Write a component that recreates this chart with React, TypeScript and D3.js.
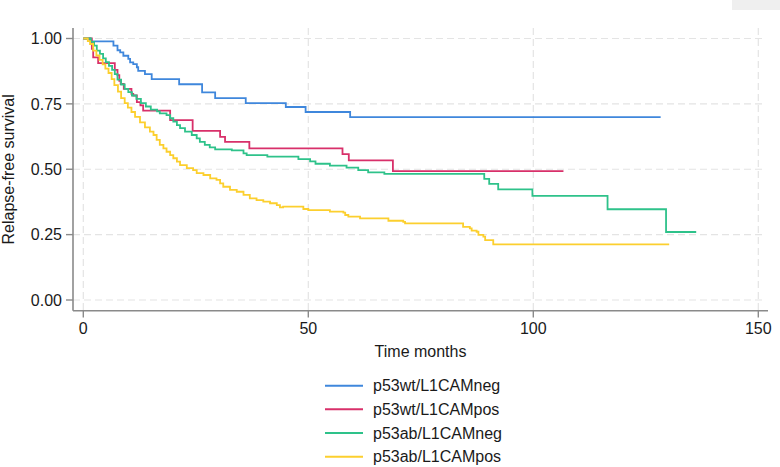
import * as d3 from 'd3';
import { useEffect } from 'react';

// step times (months) and survival after each step; last entry is the censoring end
const blueTimes = [0, 1.5, 6.7, 7.6, 8.2, 8.9, 10.0, 10.4, 11.1, 11.9, 12.2, 13.7, 15.2, 21.3, 26.4, 29.3, 36.1, 45.0, 49.4, 59.3, 128.3];
const blueSurv = [1, 0.989, 0.973, 0.955, 0.947, 0.934, 0.922, 0.909, 0.902, 0.89, 0.876, 0.864, 0.845, 0.825, 0.794, 0.772, 0.753, 0.738, 0.719, 0.699, 0.699];

const redTimes = [0, 1.9, 2.2, 3.3, 7.0, 7.6, 8.0, 8.3, 9.0, 10.7, 11.1, 11.9, 12.7, 13.3, 19.3, 24.3, 30.4, 31.5, 36.9, 57.6, 59.0, 68.8, 106.7];
const redSurv = [1, 0.96, 0.928, 0.906, 0.88, 0.86, 0.838, 0.826, 0.807, 0.788, 0.782, 0.757, 0.744, 0.724, 0.688, 0.647, 0.624, 0.605, 0.58, 0.558, 0.534, 0.493, 0.493];

const greenTimes = [0, 1.7, 2.4, 3.0, 3.7, 4.4, 5.0, 5.7, 6.4, 7.0, 7.6, 8.4, 9.2, 10.0, 10.8, 11.8, 12.8, 13.9, 15.0, 16.4, 17.0, 18.5, 19.3, 20.0, 20.8, 21.5, 22.6, 24.1, 25.2, 25.9, 27.0, 28.1, 29.3, 33.0, 35.6, 36.3, 40.9, 47.8, 50.4, 51.6, 54.8, 58.5, 61.1, 63.3, 66.9, 89.1, 90.2, 92.2, 99.8, 116.5, 129.5, 136.2];
const greenSurv = [1, 0.987, 0.973, 0.954, 0.941, 0.924, 0.91, 0.895, 0.88, 0.864, 0.843, 0.824, 0.807, 0.795, 0.782, 0.769, 0.753, 0.74, 0.728, 0.721, 0.714, 0.707, 0.695, 0.682, 0.669, 0.657, 0.644, 0.631, 0.618, 0.605, 0.593, 0.584, 0.576, 0.572, 0.561, 0.554, 0.548, 0.539, 0.53, 0.521, 0.514, 0.506, 0.497, 0.488, 0.482, 0.463, 0.444, 0.423, 0.398, 0.347, 0.26, 0.26];

const yellowTimes = [0, 1.0, 1.5, 2.2, 2.9, 3.6, 4.3, 4.9, 5.6, 6.3, 6.9, 7.7, 8.4, 9.2, 9.9, 10.7, 11.5, 12.6, 13.7, 14.8, 15.6, 16.3, 17.0, 17.8, 18.5, 19.3, 20.0, 20.8, 21.5, 23.0, 24.4, 25.2, 26.7, 28.2, 29.6, 30.4, 31.1, 32.6, 34.1, 35.6, 37.0, 38.5, 40.0, 41.5, 43.0, 43.7, 44.4, 48.9, 50.0, 54.8, 57.8, 58.2, 58.9, 61.5, 67.8, 71.1, 71.5, 84.4, 85.9, 86.3, 87.4, 87.8, 88.9, 89.3, 91.1, 130.2];
const yellowSurv = [1, 0.99, 0.979, 0.954, 0.935, 0.918, 0.901, 0.885, 0.868, 0.845, 0.822, 0.797, 0.772, 0.753, 0.736, 0.719, 0.7, 0.679, 0.66, 0.644, 0.631, 0.612, 0.593, 0.58, 0.567, 0.554, 0.542, 0.529, 0.516, 0.504, 0.497, 0.485, 0.478, 0.465, 0.459, 0.446, 0.433, 0.421, 0.414, 0.402, 0.389, 0.382, 0.376, 0.37, 0.363, 0.354, 0.357, 0.348, 0.344, 0.338, 0.334, 0.325, 0.319, 0.312, 0.303, 0.299, 0.293, 0.28, 0.274, 0.265, 0.261, 0.249, 0.242, 0.229, 0.213, 0.213];

const groups = ['p53wt/L1CAMneg', 'p53wt/L1CAMpos', 'p53ab/L1CAMneg', 'p53ab/L1CAMpos'];
const colors = ['#3f87dc', '#d8306a', '#2ec28a', '#fccf2e'];
const xTicks = [0, 50, 100, 150];
const yTicks = [0, 0.25, 0.5, 0.75, 1];

const series = [
  { times: blueTimes, surv: blueSurv },
  { times: redTimes, surv: redSurv },
  { times: greenTimes, surv: greenSurv },
  { times: yellowTimes, surv: yellowSurv },
];

const font = '"Liberation Sans", Arial, Helvetica, sans-serif';

export default function App() {
  useEffect(() => {
    document.body.style.margin = '0';
  }, []);

  const width = 780;
  const height = 467;
  const x = d3.scaleLinear().domain([0, 150]).range([83.3, 758.3]);
  const y = d3.scaleLinear().domain([0, 1]).range([300, 38.5]);
  const axisX = 73;
  const axisY = 310.7;
  const top = 28;
  const right = 768;

  const line = d3.line<[number, number]>()
    .x((d) => x(d[0]))
    .y((d) => y(d[1]))
    .curve(d3.curveStepAfter);

  const legendY = d3.scalePoint<string>().domain(groups).range([385.7, 456.7]);

  return (
    <svg width={width} height={height} style={{ position: 'absolute', left: 0, top: 0 }} fontFamily={font}>
      <rect x={732} y={0} width={48} height={10} fill='#efefef' />
      {/* grid */}
      {yTicks.map((t) => (
        <line key={'gy' + t} x1={axisX} x2={763} y1={y(t)} y2={y(t)}
          stroke='#e4e4e4' strokeWidth={1.2} strokeDasharray='7,4' />
      ))}
      {xTicks.map((t) => (
        <line key={'gx' + t} x1={x(t)} x2={x(t)} y1={top} y2={axisY}
          stroke='#e4e4e4' strokeWidth={1.2} strokeDasharray='7,4' />
      ))}
      {/* curves */}
      {series.map((s, i) => (
        <path key={groups[i]}
          d={line(s.times.map((t, j) => [t, s.surv[j]] as [number, number])) || ''}
          fill='none' stroke={colors[i]} strokeWidth={1.8} />
      ))}
      {/* axes */}
      <line x1={axisX} x2={axisX} y1={top} y2={axisY} stroke='#8a8a8a' strokeWidth={1.6} />
      <line x1={axisX} x2={right} y1={axisY} y2={axisY} stroke='#8a8a8a' strokeWidth={1.6} />
      {yTicks.map((t) => (
        <g key={'ty' + t}>
          <line x1={66} x2={axisX} y1={y(t)} y2={y(t)} stroke='#8a8a8a' strokeWidth={1.4} />
          <text x={62} y={y(t)} dy='0.36em' textAnchor='end' fontSize={16} fill='#1a1a1a'>
            {t.toFixed(2)}
          </text>
        </g>
      ))}
      {xTicks.map((t) => (
        <g key={'tx' + t}>
          <line x1={x(t)} x2={x(t)} y1={axisY} y2={317.5} stroke='#8a8a8a' strokeWidth={1.4} />
          <text x={x(t)} y={334} textAnchor='middle' fontSize={16} fill='#1a1a1a'>{t}</text>
        </g>
      ))}
      <text x={(axisX + right) / 2} y={357} textAnchor='middle' fontSize={16} fill='#1a1a1a'>Time months</text>
      <text transform={`translate(14,${(top + axisY) / 2}) rotate(-90)`} textAnchor='middle' fontSize={16} fill='#1a1a1a'>
        Relapse-free survival
      </text>
      {/* legend */}
      {groups.map((g, i) => (
        <g key={'lg' + g}>
          <line x1={325} x2={363} y1={legendY(g)} y2={legendY(g)} stroke={colors[i]} strokeWidth={2} />
          <text x={373} y={legendY(g)} dy='0.36em' fontSize={16} fill='#1a1a1a'>{g}</text>
        </g>
      ))}
    </svg>
  );
}
